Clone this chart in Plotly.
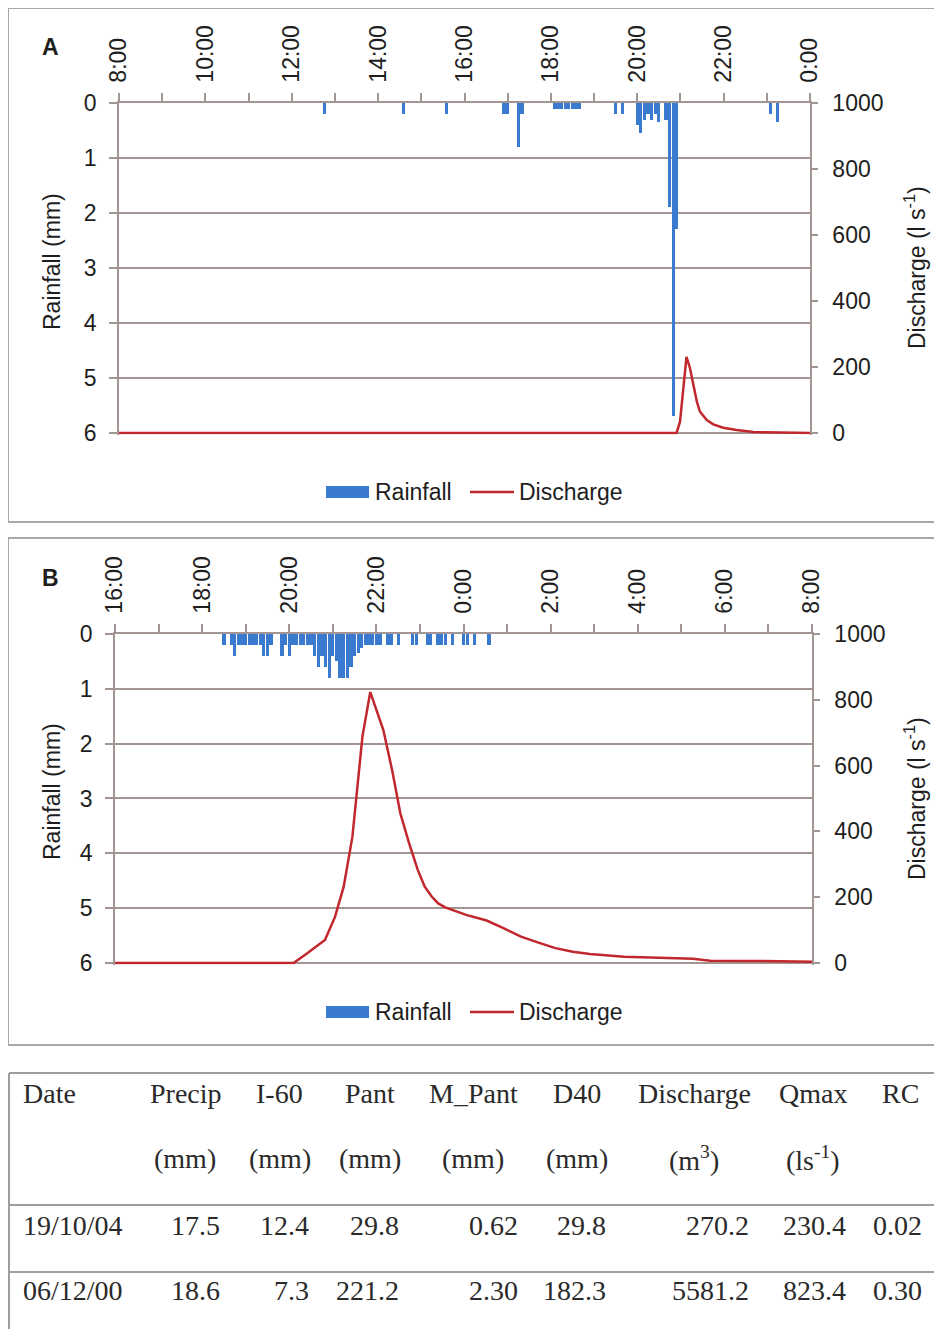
import plotly.graph_objects as go

# The page body has an 8px margin; the figure is sized to fit the 942x1337 window.
OFF = 8
FW, FH = 942 - 2 * OFF, 1337 - 2 * OFF

# ---------------- DATA ----------------
# Panel A (19/10/04): x axis from 8:00 to 0:00
a_tick_labels = ["8:00", "10:00", "12:00", "14:00", "16:00", "18:00", "20:00", "22:00", "0:00"]
a_rain_time = ["12:45", "14:35", "15:35", "16:55", "17:00", "17:15", "17:20",
               "18:05", "18:10", "18:15", "18:20", "18:25", "18:30", "18:35", "18:40",
               "19:30", "19:40", "20:00", "20:05", "20:10", "20:15", "20:20", "20:25",
               "20:30", "20:40", "20:45", "20:50", "20:55", "23:05", "23:15"]
a_rain_mm = [0.2, 0.2, 0.2, 0.2, 0.2, 0.8, 0.2,
             0.1, 0.1, 0.1, 0.1, 0.1, 0.1, 0.1, 0.1,
             0.2, 0.2, 0.4, 0.55, 0.3, 0.2, 0.3, 0.2,
             0.35, 0.3, 1.9, 5.7, 2.3, 0.2, 0.35]
a_q_hours = [0, 12.91, 12.99, 13.07, 13.14, 13.22, 13.30, 13.38, 13.45, 13.61,
             13.76, 13.99, 14.30, 14.69, 15.3, 16.0]
a_q_ls = [0, 0, 34, 136, 230.4, 197, 146, 95, 65, 39, 26, 16, 9, 3, 1, 0]

# Panel B (06/12/00): x axis from 16:00 to 8:00
b_tick_labels = ["16:00", "18:00", "20:00", "22:00", "0:00", "2:00", "4:00", "6:00", "8:00"]
b_rain_time = ["18:30", "18:40", "18:45", "18:50", "18:55", "19:00", "19:05", "19:10",
               "19:15", "19:20", "19:25", "19:30", "19:35", "19:50", "19:55", "20:00",
               "20:05", "20:10", "20:15", "20:20", "20:25", "20:30", "20:35", "20:40",
               "20:45", "20:50", "20:55", "21:00", "21:05", "21:10", "21:15", "21:20",
               "21:25", "21:30", "21:35", "21:40", "21:45", "21:50", "21:55", "22:00",
               "22:05", "22:15", "22:20", "22:30", "22:50", "22:55", "23:10", "23:15",
               "23:25", "23:30", "23:35", "23:45", "0:00", "0:05", "0:15", "0:35"]
b_rain_mm = [0.2, 0.2, 0.4, 0.2, 0.2, 0.2, 0.2, 0.2,
             0.2, 0.2, 0.4, 0.4, 0.2, 0.4, 0.2, 0.4,
             0.2, 0.2, 0.2, 0.2, 0.2, 0.2, 0.4, 0.6,
             0.4, 0.6, 0.8, 0.4, 0.5, 0.8, 0.8, 0.8,
             0.6, 0.4, 0.35, 0.25, 0.2, 0.2, 0.2, 0.2,
             0.2, 0.2, 0.2, 0.2, 0.2, 0.2, 0.2, 0.2,
             0.2, 0.2, 0.2, 0.2, 0.2, 0.2, 0.2, 0.2]
b_q_hours = [0, 3.79, 4.10, 4.42, 4.82, 5.05, 5.25, 5.45, 5.61, 5.68, 5.86, 6.16,
             6.36, 6.55, 6.75, 6.95, 7.11, 7.27, 7.42, 7.58, 8.06, 8.53, 8.93, 9.32,
             9.72, 10.11, 10.51, 10.90, 11.69, 12.48, 13.27, 13.51, 13.67, 14.86, 15.96, 16.0]
b_q_ls = [0, 0, 0, 30, 70, 140, 232, 384, 587, 688, 823.4, 708,
          587, 455, 364, 283, 232, 202, 181, 169, 146, 129, 105, 80,
          62, 45, 34, 27, 19, 15, 13, 9, 7, 6, 4, 4]

# Table
tbl_headers = ["Date", "Precip", "I-60", "Pant", "M_Pant", "D40", "Discharge", "Qmax", "RC"]
tbl_units = ["", "(mm)", "(mm)", "(mm)", "(mm)", "(mm)", "(m<sup>3</sup>)", "(ls<sup>-1</sup>)", ""]
tbl_rows = [
    ["19/10/04", "17.5", "12.4", "29.8", "0.62", "29.8", "270.2", "230.4", "0.02"],
    ["06/12/00", "18.6", "7.3", "221.2", "2.30", "182.3", "5581.2", "823.4", "0.30"],
]


# ---------------- HELPERS ----------------
def px(x):
    return (x - OFF) / FW


def py(y):
    return 1 - (y - OFF) / FH


def to_hours(t, start):
    h, m = t.split(":")
    v = int(h) + int(m) / 60.0 - start
    if v < 0:
        v += 24
    return v


BLUE = "#3b7bcf"
RED = "#c1272d"
GRID = "#a39692"
TXT = "#1e1e1e"
FONT = "Liberation Sans, Arial, sans-serif"

fig = go.Figure()

a_x = [to_hours(t, 8) for t in a_rain_time]
b_x = [to_hours(t, 16) for t in b_rain_time]

fig.add_trace(go.Bar(x=a_x, y=a_rain_mm, width=0.075, marker=dict(color=BLUE, line=dict(width=0)),
                     xaxis="x", yaxis="y", showlegend=False, name="Rainfall"))
fig.add_trace(go.Scatter(x=a_q_hours, y=a_q_ls, mode="lines", line=dict(color=RED, width=2.5),
                         xaxis="x", yaxis="y2", showlegend=False, name="Discharge"))
fig.add_trace(go.Bar(x=b_x, y=b_rain_mm, width=0.075, marker=dict(color=BLUE, line=dict(width=0)),
                     xaxis="x2", yaxis="y3", showlegend=False, name="Rainfall"))
fig.add_trace(go.Scatter(x=b_q_hours, y=b_q_ls, mode="lines", line=dict(color=RED, width=2.5),
                         xaxis="x2", yaxis="y4", showlegend=False, name="Discharge"))

tickfont = dict(family=FONT, size=23, color=TXT)


def xaxis_cfg(domain, labels, anchor):
    return dict(domain=domain, anchor=anchor, side="top", range=[0, 16], automargin=False,
                tickvals=list(range(0, 17, 2)), ticktext=labels, tickangle=-90,
                ticks="outside", ticklen=8, tickcolor=GRID, tickwidth=1.5,
                minor=dict(dtick=1, ticks="outside", ticklen=8, tickcolor=GRID, tickwidth=1.5),
                showline=True, linecolor=GRID, linewidth=1.5, showgrid=False, zeroline=False,
                tickfont=tickfont, ticklabelstandoff=6, fixedrange=True)


def yleft_cfg(domain, anchor):
    return dict(domain=domain, anchor=anchor, range=[6.03, 0], tickvals=[0, 1, 2, 3, 4, 5, 6],
                automargin=False,
                ticks="outside", ticklen=8, tickcolor=GRID, tickwidth=1.5,
                showline=True, linecolor=GRID, linewidth=1.5,
                showgrid=True, gridcolor=GRID, gridwidth=1.5, zeroline=False,
                tickfont=tickfont, ticklabelstandoff=8)


def yright_cfg(overlay, anchor):
    return dict(overlaying=overlay, anchor=anchor, side="right", range=[-5, 1000],
                automargin=False, tickvals=[0, 200, 400, 600, 800, 1000],
                ticks="outside", ticklen=6, tickcolor=GRID, tickwidth=1.5,
                showline=True, linecolor=GRID, linewidth=1.5, showgrid=False, zeroline=False,
                tickfont=tickfont, ticklabelstandoff=10)


fig.update_layout(
    width=FW, height=FH, margin=dict(l=0, r=0, t=0, b=0, autoexpand=False),
    paper_bgcolor="white", plot_bgcolor="white", bargap=0,
    xaxis=xaxis_cfg([px(119), px(810)], a_tick_labels, "y"),
    yaxis=yleft_cfg([py(434.6), py(103)], "x"),
    yaxis2=yright_cfg("y", "x"),
    xaxis2=xaxis_cfg([px(115), px(812)], b_tick_labels, "y3"),
    yaxis3=yleft_cfg([py(964.6), py(634)], "x2"),
    yaxis4=yright_cfg("y3", "x2"),
    font=dict(family=FONT, color=TXT),
)

shapes = []
annotations = []


def ann(text, x, y, size, family=FONT, color=TXT, xanchor="center", angle=0):
    annotations.append(dict(text=text, x=px(x), y=py(y), xref="paper", yref="paper",
                            xanchor=xanchor, yanchor="middle", showarrow=False, textangle=angle,
                            font=dict(family=family, size=size, color=color)))


# outer panel frames
for (y0, y1) in [(8, 522), (538, 1045)]:
    shapes.append(dict(type="rect", xref="paper", yref="paper", x0=px(8), x1=px(936),
                       y0=py(y1), y1=py(y0), line=dict(color="#a8a8a8", width=2)))

# panel letters, axis titles and legends
for letter, ly, ytitle_y, rtitle_y, leg_y in [("A", 47, 262, 268, 492), ("B", 578, 792, 799, 1012)]:
    ann("<b>%s</b>" % letter, 50, ly, 23)
    ann("Rainfall (mm)", 52, ytitle_y, 23, angle=-90)
    ann("Discharge (l s<sup>-1</sup>)", 915, rtitle_y, 23, angle=-90)
    shapes.append(dict(type="rect", xref="paper", yref="paper", x0=px(326), x1=px(369),
                       y0=py(leg_y + 6), y1=py(leg_y - 6), fillcolor=BLUE, line=dict(width=0)))
    ann("Rainfall", 373, leg_y, 23, xanchor="left")
    shapes.append(dict(type="line", xref="paper", yref="paper", x0=px(470), x1=px(514),
                       y0=py(leg_y), y1=py(leg_y), line=dict(color=RED, width=2.5)))
    ann("Discharge", 517, leg_y, 23, xanchor="left")

# ---------------- TABLE ----------------
SERIF = "Liberation Serif, Times New Roman, serif"
TCOL = "#2a2a2a"
LINE = "#9e9e9e"
for yl in [1073, 1205, 1272]:
    shapes.append(dict(type="line", xref="paper", yref="paper", x0=px(9), x1=px(934),
                       y0=py(yl), y1=py(yl), line=dict(color=LINE, width=2)))
shapes.append(dict(type="line", xref="paper", yref="paper", x0=px(9), x1=px(9),
                   y0=py(1329), y1=py(1073), line=dict(color=LINE, width=2)))

header_cx = [21, 186, 279, 370, 474, 577, 694, 813, 900]
unit_cx = [21, 185, 280, 370, 473, 577, 694, 813, 900]
value_rx = [21, 222, 311, 401, 520, 608, 751, 848, 924]
row_y = [1225, 1290]

for i, h in enumerate(tbl_headers):
    ann(h, header_cx[i], 1093, 28, family=SERIF, color=TCOL, xanchor="left" if i == 0 else "center")
    if tbl_units[i]:
        ann(tbl_units[i], unit_cx[i], 1158, 28, family=SERIF, color=TCOL)
for r, row in enumerate(tbl_rows):
    for i, v in enumerate(row):
        ann(v, value_rx[i], row_y[r], 28, family=SERIF, color=TCOL,
            xanchor="left" if i == 0 else "right")

fig.update_layout(shapes=shapes, annotations=annotations)
fig.write_html("out.html")
